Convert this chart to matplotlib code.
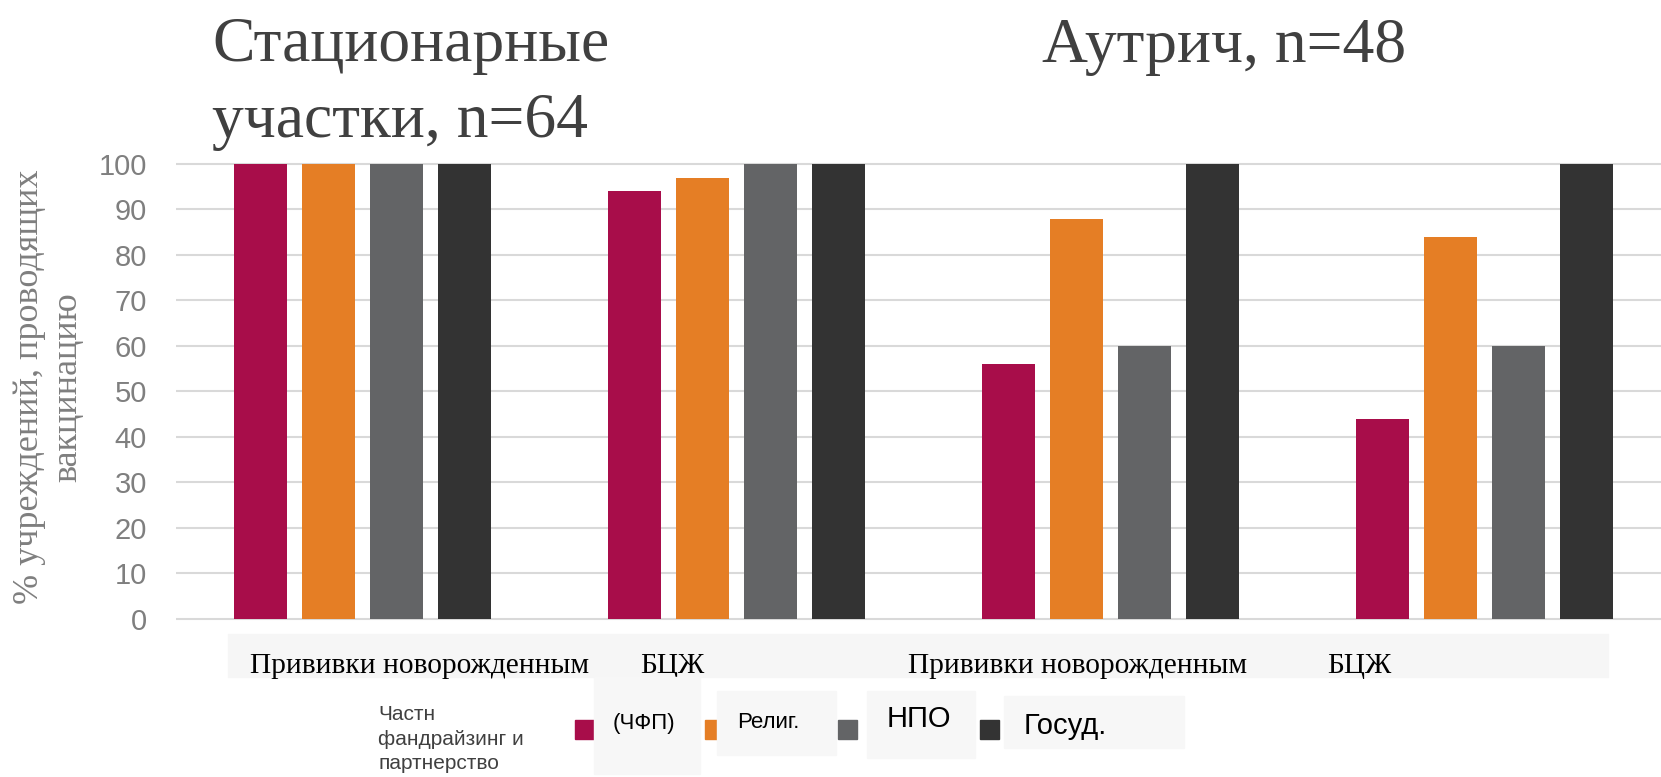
import matplotlib.pyplot as plt
from matplotlib.patches import Rectangle
from matplotlib import transforms
import numpy as np

# данные: % учреждений, проводящих вакцинацию
categories = ["Прививки новорожденным", "БЦЖ", "Прививки новорожденным", "БЦЖ"]
series_names = ["(ЧФП)", "Религ.", "НПО", "Госуд."]
chastn = [100, 94, 56, 44]
relig = [100, 97, 88, 84]
npo = [100, 100, 60, 60]
gosud = [100, 100, 100, 100]
colors = ["#A80D4A", "#E57E25", "#636466", "#333333"]
yticks = list(range(0, 101, 10))

plt.rcParams['font.family'] = ['Liberation Sans', 'DejaVu Sans']

W, H = 1661, 777
fig = plt.figure(figsize=(W / 100, H / 100), dpi=100)


def fx(px):
    return px / W


def fy(py):
    return 1 - py / H


ax = fig.add_axes([fx(176), fy(618.5), 1495.5 / W, 454.5 / H])

x = np.arange(len(categories))
step, width = 0.1818, 0.1417
for i, (vals, c) in enumerate(zip([chastn, relig, npo, gosud], colors)):
    ax.bar(x + (i - 1.5) * step, vals, width=width, color=c, zorder=3)

ax.set_xlim(-0.5, 3.5)
ax.set_ylim(0, 100)
ax.hlines(yticks, -0.5, 3.5, color="#D9D9D9", lw=1.5, zorder=1, clip_on=False)
ax.set_yticks(yticks)
ax.set_xticks([])
for s in ax.spines.values():
    s.set_visible(False)
ax.tick_params(axis='y', length=0, pad=21, labelsize=21, labelcolor="#7F7F7F")

# подписи категорий на серой полосе
fig.patches.append(Rectangle((fx(228), fy(677)), (1608 - 228) / W, 43 / H,
                             transform=fig.transFigure, color="#F6F6F6", zorder=1))
trans = transforms.blended_transform_factory(ax.transData, fig.transFigure)
label_x = [-0.303, 0.742, 1.458, 2.579]
for lx, cat in zip(label_x, categories):
    fig.text(lx, fy(673), cat, transform=trans, family='Liberation Serif',
             size=21.2, color="black", va='baseline', ha='left', zorder=2)

# заголовки
fig.text(fx(212), fy(137), "Стационарные\nучастки, n=64", family='Liberation Serif',
         size=45.8, color="#404040", va='baseline', ha='left', linespacing=1.4)
fig.text(fx(1042), fy(62), "Аутрич, n=48", family='Liberation Serif',
         size=45.8, color="#404040", va='baseline', ha='left')

# подпись оси y
fig.text(fx(49), fy(387), "% учреждений, проводящих\nвакцинацию", family='Liberation Serif',
         size=26, color="#7F7F7F", rotation=90, ha='center', va='center',
         multialignment='center', linespacing=1.2)

# легенда
fig.text(fx(378), fy(769), "Частн\nфандрайзинг и\nпартнерство", size=15,
         color="#404040", va='baseline', ha='left', linespacing=1.35)
boxes = [(594, 677, 700, 774), (717, 691, 836, 755), (867, 691, 975, 758), (1004, 696, 1184, 748)]
squares = [(575, 594), (705, 717), (838, 857), (980, 999)]
text_pos = [(613, 723, 16), (737, 722, 16), (887, 719, 21), (1024, 726, 21)]
for name, c, (bx0, by0, bx1, by1), (sx0, sx1), (tx, ty, ts) in zip(
        series_names, colors, boxes, squares, text_pos):
    fig.patches.append(Rectangle((fx(sx0), fy(739)), (sx1 - sx0) / W, 19 / H,
                                 transform=fig.transFigure, color=c, zorder=3))
    fig.patches.append(Rectangle((fx(bx0), fy(by1)), (bx1 - bx0) / W, (by1 - by0) / H,
                                 transform=fig.transFigure, color="#F7F7F7", zorder=4))
    fig.text(fx(tx), fy(ty), name, size=ts, color="black", ha='left', va='center', zorder=5)

fig.savefig("out.png", dpi=100)
